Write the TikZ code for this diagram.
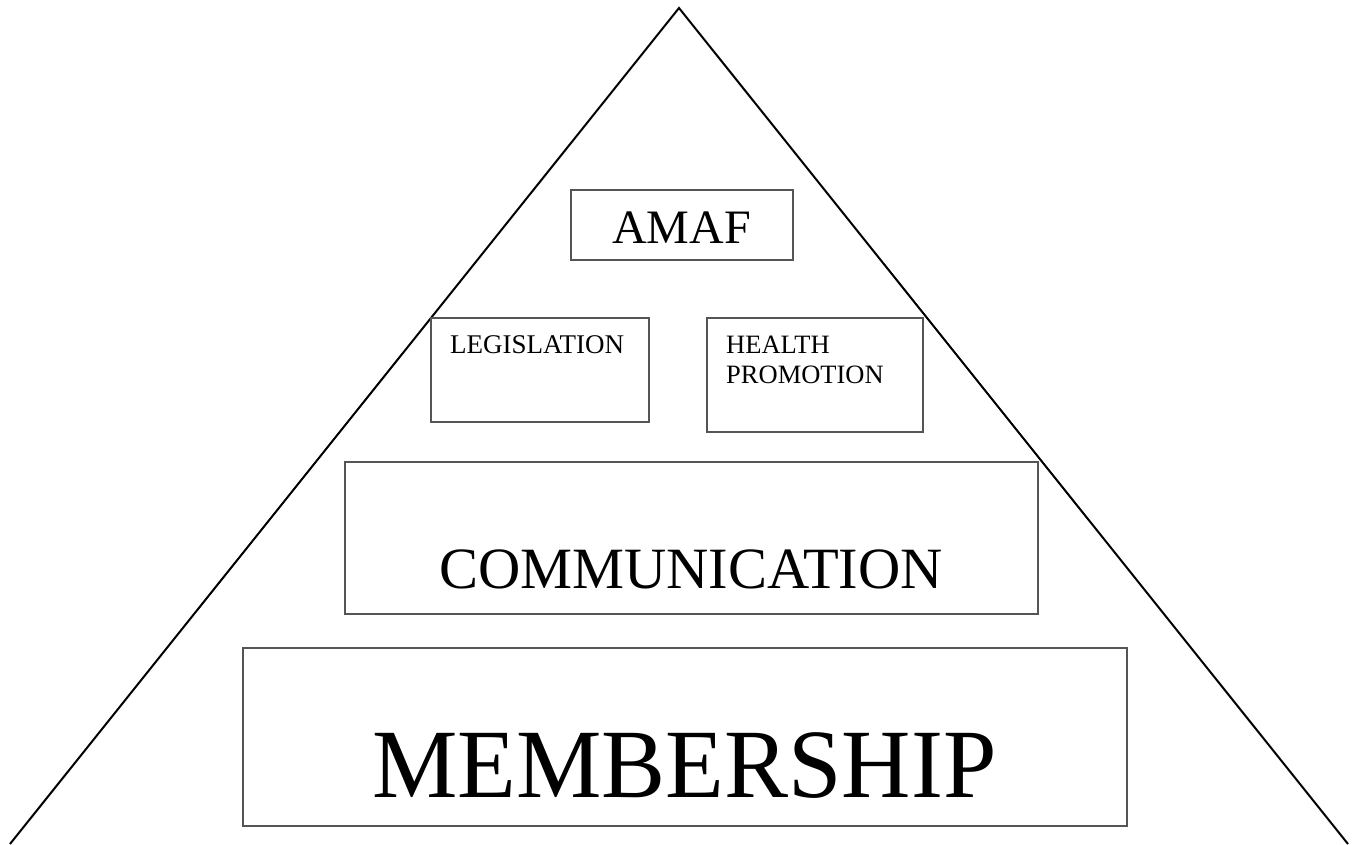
\documentclass[tikz,border=0pt]{standalone}
\usepackage{fontspec}
\setmainfont{Liberation Serif}
\definecolor{boxgray}{RGB}{85,85,85}
\tikzset{
  pbox/.style={draw=boxgray, line width=1.6pt, fill=white},
  lbl/.style={inner sep=0pt, anchor=base west, text=black},
  edge/.style={draw=black, line width=2pt, line join=miter}
}
\newcommand{\fs}[1]{\fontsize{#1pt}{#1pt}\selectfont}
\begin{document}
\begin{tikzpicture}[x=1pt,y=-1pt]
\useasboundingbox (0,0) rectangle (1356,844);
% pyramid
\coordinate (apex) at (679,8);
\coordinate (bl) at (10,844);
\coordinate (br) at (1348,844);
\draw[edge] (bl) -- (apex) -- (br);
% boxes
\draw[pbox] (571,190) rectangle (793,260) coordinate (amafbox);
\draw[pbox] (431,318) rectangle (649,422) coordinate (legbox);
\draw[pbox] (707,318) rectangle (923,432) coordinate (healthbox);
\draw[pbox] (345,462) rectangle (1038,614) coordinate (commbox);
\draw[pbox] (243,648) rectangle (1127,826) coordinate (membox);
% labels
\node[lbl, font=\fs{48}] (amaf) at (612,243) {AMAF};
\node[lbl, font=\fs{27}] (leg) at (450,353) {LEGISLATION};
\node[lbl, font=\fs{26.5}] (health) at (726,353) {HEALTH};
\node[lbl, font=\fs{26.5}] (promo) at (726,383) {PROMOTION};
\node[lbl, font=\fs{58.5}] (comm) at (439,588) {COMMUNICATION};
\node[lbl, font=\fs{98}] (mem) at (372,797) {\scalebox{0.98}[1]{MEMBERSHIP}};
\end{tikzpicture}
\end{document}
